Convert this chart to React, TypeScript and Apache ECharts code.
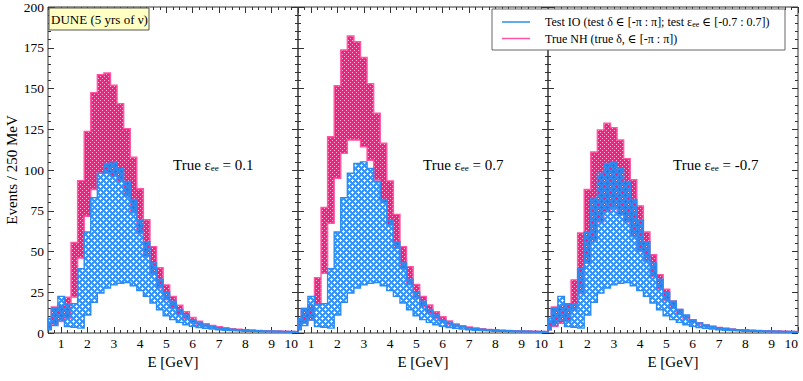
import React, { useEffect, useRef } from 'react';
import * as echarts from 'echarts';

// Bin centres in GeV (250 MeV bins)
const binCenters = [
  0.5, 0.75, 1, 1.25, 1.5, 1.75, 2, 2.25, 2.5, 2.75, 3, 3.25, 3.5, 3.75, 4, 4.25, 4.5, 4.75, 5, 5.25,
  5.5, 5.75, 6, 6.25, 6.5, 6.75, 7, 7.25, 7.5, 7.75, 8, 8.25, 8.5, 8.75, 9, 9.25, 9.5, 9.75, 10,
];

// Test IO band (same in every panel)
const testIOHigh = [
  9, 15, 22.5, 18, 18, 39.5, 62, 83, 98, 104, 105, 101, 93, 82, 69.5, 56, 43, 33, 25, 19.5,
  14.5, 11, 8, 6.2, 4.9, 4.0, 3.3, 2.8, 2.4, 2.1, 1.8, 1.6, 1.4, 1.3, 1.2, 1.1, 1.0, 0.9, 0.8,
];
const testIOLow = [
  2, 4.5, 8, 4, 3.5, 3, 11, 18.8, 24.5, 27.6, 29.5, 30.5, 31, 29, 26, 22.5, 18.4, 14.3, 10.6, 8.2,
  6.5, 5.1, 4.1, 3.4, 2.9, 2.4, 2.0, 1.7, 1.5, 1.3, 1.1, 1.0, 0.9, 0.8, 0.7, 0.6, 0.6, 0.5, 0.5,
];

// True NH bands
const trueNHHighEps01 = [
  7, 16, 17, 22, 55.5, 93.5, 123.7, 147.5, 158.5, 159.5, 152, 140.7, 125.4, 107.8, 88.5, 69.5, 53, 40, 29.5, 22.5,
  17, 13, 9.5, 7.3, 5.7, 4.6, 3.8, 3.2, 2.7, 2.3, 2.0, 1.8, 1.6, 1.4, 1.3, 1.2, 1.1, 1.0, 0.9,
];
const trueNHLowEps01 = [
  2.5, 5, 7, 9, 22, 46, 71.6, 88, 98, 98, 96, 93, 84, 73.6, 61, 47, 36, 27.6, 20.4, 15.3,
  11.2, 8.6, 6.3, 4.8, 3.8, 3.1, 2.6, 2.2, 1.9, 1.6, 1.4, 1.2, 1.1, 1.0, 0.9, 0.8, 0.7, 0.7, 0.6,
];
const trueNHHighEps07 = [
  8, 15, 17, 34, 77, 120.4, 151.7, 173.6, 182.2, 178.7, 169, 153, 134.8, 116.4, 93.3, 72.8, 53, 40.7, 29.8, 22.5,
  17.2, 13, 10, 7.4, 5.6, 4.5, 3.7, 3.1, 2.6, 2.2, 1.9, 1.7, 1.5, 1.4, 1.3, 1.2, 1.1, 1.0, 0.9,
];
const trueNHLowEps07 = [
  3, 6, 8, 17, 36.6, 67.3, 94.9, 110.2, 118.4, 118.4, 114.3, 106, 93.9, 80, 66, 52, 39.5, 29.5, 21.5, 16,
  12, 9, 6.8, 5.2, 4.1, 3.3, 2.7, 2.3, 1.9, 1.6, 1.4, 1.2, 1.1, 1.0, 0.9, 0.8, 0.7, 0.7, 0.6,
];
const trueNHHighEpsM07 = [
  7, 16, 17, 18, 32.6, 61.4, 88, 111, 124.6, 128.7, 126, 118.4, 107, 94, 78, 62, 48, 35.8, 26.8, 19.6,
  14.5, 10.8, 8.2, 6.3, 5.0, 4.1, 3.4, 2.9, 2.5, 2.1, 1.9, 1.7, 1.5, 1.4, 1.3, 1.2, 1.1, 1.0, 0.9,
];
const trueNHLowEpsM07 = [
  2, 4, 6, 7, 14, 24, 42.7, 56, 68, 74.4, 76.5, 72.4, 68, 59, 50, 43.8, 34.6, 27, 20, 15,
  11.3, 8.6, 6.5, 5.0, 4.0, 3.2, 2.7, 2.2, 1.9, 1.6, 1.4, 1.2, 1.1, 1.0, 0.9, 0.8, 0.7, 0.7, 0.6,
];

const panelEps = ['0.1', '0.7', '-0.7'];
const panelHigh = [trueNHHighEps01, trueNHHighEps07, trueNHHighEpsM07];
const panelLow = [trueNHLowEps01, trueNHLowEps07, trueNHLowEpsM07];

const xMajorTicks = [1, 2, 3, 4, 5, 6, 7, 8, 9, 10];
const X_MIN = 0.5;
const X_MAX = 10;
const BIN_HALF = 0.125;

const legendIO = 'Test IO (test δ ∈ [-π : π]; test ε{s|ee} ∈ [-0.7 : 0.7])';
const legendNH = 'True NH (true δ, ∈ [-π : π])';
const duneLabel = 'DUNE (5 yrs of ν)';

const FONT = '"Liberation Serif", "DejaVu Serif", serif';
const PINK = '#ff1a82';
const PINK_LINE = '#ff56a4';
const BLUE = 'rgba(38,140,245,0.92)';
const BLUE_LINE = '#2a8cf2';
const AXIS_COLOR = '#333';

function makePattern(size: number, paint: (ctx: CanvasRenderingContext2D) => void) {
  const c = document.createElement('canvas');
  c.width = size;
  c.height = size;
  const ctx = c.getContext('2d')!;
  paint(ctx);
  return { image: c, repeat: 'repeat', imageWidth: size, imageHeight: size } as any;
}

export default function App() {
  const ref = useRef<HTMLDivElement>(null);

  useEffect(() => {
    document.body.style.margin = '0';
    const chart = echarts.init(ref.current!, null, { renderer: 'svg' });

    const pinkFill = makePattern(4, (ctx) => {
      ctx.fillStyle = PINK;
      ctx.fillRect(0, 0, 4, 4);
      ctx.fillStyle = 'rgba(255,255,255,0.75)';
      ctx.fillRect(0, 0, 1, 1);
      ctx.fillRect(2, 2, 1, 1);
    });
    const blueFill = makePattern(6, (ctx) => {
      ctx.fillStyle = BLUE;
      for (let x = 0; x < 6; x++) {
        for (let y = 0; y < 6; y++) {
          const a = (x + y) % 6;
          const b = (x - y + 6) % 6;
          if (a < 3 || b < 3) ctx.fillRect(x, y, 1, 1);
        }
      }
    });

    const band = (xi: number, yi: number, hi: number[], lo: number[], fill: any, stroke: string, z: number) => ({
      type: 'custom',
      xAxisIndex: xi,
      yAxisIndex: yi,
      z,
      silent: true,
      data: [[X_MIN, 0]],
      renderItem: (_p: any, api: any) => {
        const upper: number[][] = [];
        const lower: number[][] = [];
        binCenters.forEach((e, j) => {
          const x0 = Math.max(X_MIN, e - BIN_HALF);
          const x1 = Math.min(X_MAX, e + BIN_HALF);
          upper.push(api.coord([x0, hi[j]]), api.coord([x1, hi[j]]));
          lower.push(api.coord([x0, lo[j]]), api.coord([x1, lo[j]]));
        });
        const points = upper.concat(lower.reverse());
        return {
          type: 'polygon',
          shape: { points },
          style: { fill, stroke, lineWidth: 1.4, lineJoin: 'miter' },
        };
      },
    });

    const grids: any[] = [];
    const xAxes: any[] = [];
    const yAxes: any[] = [];
    const series: any[] = [];
    const tickLine = { color: AXIS_COLOR, width: 1 };

    panelEps.forEach((_eps, i) => {
      grids.push({
        left: 48 + 250 * i,
        top: 7,
        width: 250,
        height: 326,
        show: true,
        borderColor: AXIS_COLOR,
        borderWidth: 1,
        backgroundColor: 'transparent',
      });
      const xBase = {
        type: 'value',
        gridIndex: i,
        min: X_MIN,
        max: X_MAX,
        splitLine: { show: false },
        axisLine: { show: false },
      };
      xAxes.push({
        ...xBase,
        position: 'bottom',
        interval: 0.25,
        axisTick: { inside: true, length: 3, lineStyle: tickLine },
        axisLabel: {
          color: '#000',
          fontFamily: FONT,
          fontSize: 13.5,
          margin: 3,
          alignMaxLabel: 'right',
          formatter: (v: number) => (xMajorTicks.includes(v) ? String(v) : ''),
        },
        name: 'E [GeV]',
        nameLocation: 'middle',
        nameGap: 18,
        nameTextStyle: { color: '#000', fontFamily: FONT, fontSize: 15 },
      });
      xAxes.push({
        ...xBase,
        position: 'bottom',
        axisTick: { inside: true, length: 6, customValues: xMajorTicks, lineStyle: tickLine },
        axisLabel: { show: false },
      });
      xAxes.push({
        ...xBase,
        position: 'top',
        interval: 0.25,
        axisTick: { inside: true, length: 3, lineStyle: tickLine },
        axisLabel: { show: false },
      });
      xAxes.push({
        ...xBase,
        position: 'top',
        axisTick: { inside: true, length: 6, customValues: xMajorTicks, lineStyle: tickLine },
        axisLabel: { show: false },
      });
      const yBase = {
        type: 'value',
        gridIndex: i,
        min: 0,
        max: 200,
        interval: 25,
        splitLine: { show: false },
        axisLine: { show: false },
        axisTick: { inside: true, length: 6, lineStyle: tickLine },
        minorTick: { show: true, splitNumber: 5, length: 3, lineStyle: tickLine },
      };
      yAxes.push({
        ...yBase,
        position: 'left',
        axisLabel:
          i === 0
            ? { color: '#000', fontFamily: FONT, fontSize: 13.5, margin: 4 }
            : { show: false },
        name: i === 0 ? 'Events / 250 MeV' : '',
        nameLocation: 'middle',
        nameRotate: 90,
        nameGap: 29,
        nameTextStyle: { color: '#000', fontFamily: FONT, fontSize: 15 },
      });
      yAxes.push({ ...yBase, position: 'right', axisLabel: { show: false } });

      series.push(band(4 * i, 2 * i, panelHigh[i], panelLow[i], pinkFill, PINK_LINE, 2));
      series.push(band(4 * i, 2 * i, testIOHigh, testIOLow, blueFill, BLUE_LINE, 3));
    });

    const epsTextX = [173, 423, 673];
    const graphics: any[] = panelEps.map((eps, i) => ({
      type: 'text',
      x: epsTextX[i],
      y: 165,
      z: 10,
      style: {
        text: 'True ε{s|ee} = ' + eps,
        fontFamily: FONT,
        fontSize: 15,
        fill: '#000',
        verticalAlign: 'middle',
        rich: { s: { fontFamily: FONT, fontSize: 9, fill: '#000', verticalAlign: 'bottom', lineHeight: 10, padding: [6, 0, 0, 0] } },
      },
    }));

    graphics.push(
      {
        type: 'rect',
        z: 10,
        shape: { x: 49, y: 8, width: 100, height: 22 },
        style: { fill: '#ffffc4', stroke: '#555', lineWidth: 1 },
      },
      {
        type: 'text',
        z: 11,
        x: 99.5,
        y: 19.5,
        style: { text: duneLabel, fontFamily: FONT, fontSize: 13, fill: '#000', align: 'center', verticalAlign: 'middle' },
      },
      {
        type: 'rect',
        z: 10,
        shape: { x: 492, y: 9, width: 293, height: 41 },
        style: { fill: '#fff', stroke: '#666', lineWidth: 1 },
      },
      {
        type: 'line',
        z: 11,
        shape: { x1: 502, y1: 22, x2: 530, y2: 22 },
        style: { stroke: BLUE_LINE, lineWidth: 1.5 },
      },
      {
        type: 'line',
        z: 11,
        shape: { x1: 502, y1: 38.5, x2: 530, y2: 38.5 },
        style: { stroke: PINK_LINE, lineWidth: 1.5 },
      },
      {
        type: 'text',
        z: 11,
        x: 545,
        y: 22,
        style: {
          text: legendIO,
          fontFamily: FONT,
          fontSize: 12,
          fill: '#000',
          verticalAlign: 'middle',
          rich: { s: { fontFamily: FONT, fontSize: 8, fill: '#000', verticalAlign: 'bottom', lineHeight: 9, padding: [5, 0, 0, 0] } },
        },
      },
      {
        type: 'text',
        z: 11,
        x: 545,
        y: 38.5,
        style: { text: legendNH, fontFamily: FONT, fontSize: 12, fill: '#000', verticalAlign: 'middle' },
      }
    );

    chart.setOption({
      animation: false,
      backgroundColor: '#fff',
      grid: grids,
      xAxis: xAxes,
      yAxis: yAxes,
      series,
      graphic: graphics,
    });

    return () => chart.dispose();
  }, []);

  return <div ref={ref} style={{ position: 'fixed', left: 0, top: 0, width: 803, height: 381 }} />;
}
